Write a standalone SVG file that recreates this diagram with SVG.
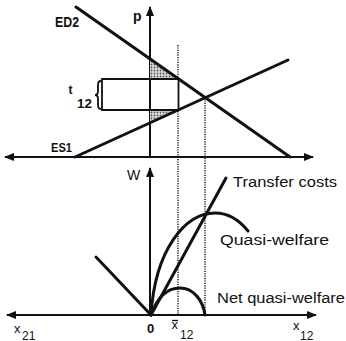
<svg xmlns="http://www.w3.org/2000/svg" width="346" height="341" viewBox="0 0 346 341">
<style>
.ax{stroke:#111;stroke-width:2;fill:none}
.ln{stroke:#111;stroke-width:3;fill:none;stroke-linecap:round}
.bx{stroke:#111;stroke-width:1.8;fill:none}
.dt{stroke:#222;stroke-width:1.5;stroke-dasharray:1.2 1.2;fill:none}
.lb{font-family:"Liberation Sans",Arial,sans-serif;fill:#111}
.bd{font-family:"Liberation Sans",Arial,sans-serif;font-weight:bold;fill:#111}
</style>
<defs>
<pattern id="dots" width="3" height="3" patternUnits="userSpaceOnUse">
<rect width="3" height="3" fill="#ddd"/>
<circle cx="1.5" cy="1.5" r="0.9" fill="#555"/>
</pattern>
<marker id="ah" viewBox="0 0 10 8" refX="9" refY="4" markerWidth="10" markerHeight="8" markerUnits="userSpaceOnUse" orient="auto">
<path d="M0,0 L10,4 L0,8 Z" fill="#111"/>
</marker>
</defs>
<rect width="346" height="341" fill="#fff"/>
<g id="connectors">
<line class="ax" x1="150" y1="157" x2="150" y2="7" marker-end="url(#ah)"/>
<line class="ax" x1="150" y1="157" x2="5" y2="157" marker-end="url(#ah)"/>
<line class="ax" x1="150" y1="157" x2="313" y2="157" marker-end="url(#ah)"/>
<polygon points="150,59 150,79 178,79" fill="url(#dots)"/>
<polygon points="150,110 178,110 150,122.8" fill="url(#dots)"/>
<polyline class="bx" points="178,79 102,79 102,110 178,110"/>
<line class="bx" x1="178.5" y1="78" x2="178.5" y2="111"/>
<path class="bx" stroke-width="1.5" d="M101,81 Q98,81 98,85 L98,91 Q98,95 95,95 Q98,95 98,99 L98,105 Q98,109 101,109"/>
<line class="dt" x1="178" y1="45" x2="178" y2="78"/>
<line class="dt" x1="178" y1="111" x2="178" y2="315"/>
<line class="dt" x1="205" y1="98" x2="205" y2="315"/>
<line class="ln" x1="76" y1="7" x2="290" y2="157"/>
<line class="ln" x1="75" y1="157" x2="288" y2="60"/>
<line class="ax" x1="150" y1="315" x2="150" y2="168" marker-end="url(#ah)"/>
<line class="ax" x1="150" y1="315" x2="7" y2="315" marker-end="url(#ah)"/>
<line class="ax" x1="150" y1="315" x2="316" y2="315" marker-end="url(#ah)"/>
<line class="ln" x1="151" y1="315" x2="96" y2="257"/>
<line class="ln" x1="151" y1="315" x2="226" y2="178"/>
<path class="ln" d="M151,315 C155,250 185,213 215,213 C230,213 240,221 248,231"/>
<path class="ln" d="M151,315 C158,295 168,288 180,288 C193,288 203,300 205,315"/>
</g>
<g id="labels">
<text class="bd" x="55" y="27" font-size="15" textLength="24" lengthAdjust="spacingAndGlyphs">ED2</text>
<text class="bd" x="133" y="20.5" font-size="14">p</text>
<text class="bd" x="68.5" y="94" font-size="12">t</text>
<text class="bd" x="77" y="108" font-size="13" textLength="15" lengthAdjust="spacingAndGlyphs">12</text>
<text class="bd" x="51" y="152" font-size="12.5" textLength="21" lengthAdjust="spacingAndGlyphs">ES1</text>
<text class="lb" x="127" y="180" font-size="14">W</text>
<text class="lb" x="233" y="187" font-size="14" textLength="104" lengthAdjust="spacingAndGlyphs">Transfer costs</text>
<text class="lb" x="220" y="245" font-size="14" textLength="109" lengthAdjust="spacingAndGlyphs">Quasi-welfare</text>
<text class="lb" x="217" y="303" font-size="14" textLength="128" lengthAdjust="spacingAndGlyphs">Net quasi-welfare</text>
<text class="bd" x="147" y="333" font-size="13">0</text>
<line x1="172" y1="320.5" x2="178" y2="320.5" stroke="#111" stroke-width="1.3"/>
<text class="lb" x="171.5" y="329" font-size="13">x</text>
<text class="lb" x="180" y="339" font-size="12">12</text>
<text class="lb" x="14" y="333" font-size="13">x</text>
<text class="lb" x="22" y="339.5" font-size="12">21</text>
<text class="lb" x="293" y="330" font-size="13">x</text>
<text class="lb" x="300" y="339.5" font-size="12">12</text>
</g>
</svg>
